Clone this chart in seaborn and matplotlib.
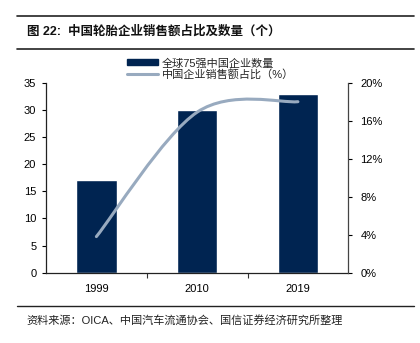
import matplotlib
matplotlib.use('Agg')
import matplotlib.pyplot as plt
import seaborn as sns
import pandas as pd
import numpy as np
from matplotlib.path import Path
from matplotlib.patches import PathPatch, Patch
from matplotlib.lines import Line2D
from matplotlib.ticker import FuncFormatter, FixedLocator

# ---- data ----
years = ['1999', '2010', '2019']
counts = [17, 30, 33]            # 全球75强中国企业数量
shares = [3.8, 16.9, 18.0]       # 中国企业销售额占比 (%)
left_ticks = [0, 5, 10, 15, 20, 25, 30, 35]
right_ticks = [0, 4, 8, 12, 16, 20]
title = '图 22:  中国轮胎企业销售额占比及数量（个）'
source = '资料来源：OICA、中国汽车流通协会、国信证券经济研究所整理'
label_bar = '全球75强中国企业数量'
label_line = '中国企业销售额占比（%）'

BAR = '#002451'
LINE = '#98AABF'

sns.set_theme(style='white')
plt.rcParams['font.family'] = ['Liberation Sans', 'Noto Sans CJK SC', 'DejaVu Sans']

W, H = 420, 343
fig = plt.figure(figsize=(W / 100, H / 100), dpi=100)
ax = fig.add_axes([46 / W, 1 - 272.7 / H, (348.3 - 46) / W, 190 / H])

df = pd.DataFrame({'year': years, 'count': counts})
sns.barplot(data=df, x='year', y='count', color=BAR, width=0.4, saturation=1,
            ax=ax, zorder=2)
ax.set_xlim(-0.5, 2.5)
ax.set_ylim(0, 35)
ax.set_yticks(left_ticks)
ax.set_xlabel('')
ax.set_ylabel('')
ax.xaxis.set_minor_locator(FixedLocator([0.5, 1.5]))
ax.tick_params(axis='x', which='major', length=0, labelsize=8, pad=8, colors='black')
ax.tick_params(axis='x', which='minor', bottom=True, length=3.5, width=0.8, direction='out', color='#333333')
ax.tick_params(axis='y', left=True, length=3, width=0.8, direction='out', labelsize=8, pad=4, colors='black')
for s in ['top', 'right']:
    ax.spines[s].set_visible(False)
for s in ['left', 'bottom']:
    ax.spines[s].set_color('#222222')
    ax.spines[s].set_linewidth(0.9)

ax2 = ax.twinx()
ax2.set_ylim(0, 20)
ax2.set_yticks(right_ticks)
ax2.yaxis.set_major_formatter(FuncFormatter(lambda v, p: f'{v:.0f}%'))
ax2.tick_params(axis='y', right=True, length=2.7, width=0.8, direction='out', labelsize=8, pad=6, colors='black')
for s in ['top', 'left', 'bottom']:
    ax2.spines[s].set_visible(False)
ax2.spines['right'].set_color('#444444')
ax2.spines['right'].set_linewidth(0.9)
ax2.grid(False)

# smoothed line (Catmull-Rom -> cubic Bezier through the data points)
xs = np.arange(len(shares), dtype=float)
ys = np.array(shares, dtype=float)
P = np.column_stack([xs, ys])
verts = [tuple(P[0])]
codes = [Path.MOVETO]
n = len(P)
for i in range(n - 1):
    p0 = P[i - 1] if i > 0 else P[i]
    p1 = P[i]
    p2 = P[i + 1]
    p3 = P[i + 2] if i + 2 < n else P[i + 1]
    c1 = p1 + (p2 - p0) / 6
    c2 = p2 - (p3 - p1) / 6
    verts += [tuple(c1), tuple(c2), tuple(p2)]
    codes += [Path.CURVE4] * 3
ax2.add_patch(PathPatch(Path(verts, codes), facecolor='none', edgecolor=LINE,
                        linewidth=2.2, capstyle='round', zorder=3))

# legend
handles = [Patch(facecolor=BAR, edgecolor=BAR),
           Line2D([0], [0], color=LINE, linewidth=2.2)]
fig.legend(handles, [label_bar, label_line], loc='upper left',
           bbox_to_anchor=(127 / W, 1 - 58 / H), frameon=False, fontsize=8,
           handlelength=2.8, handleheight=0.45, handletextpad=0.35,
           labelspacing=0.05, borderpad=0, borderaxespad=0)

# title, rules, source
fig.add_artist(Line2D([17 / W, 414 / W], [1 - 16 / H, 1 - 16 / H], color='#222222', linewidth=1.2))
fig.add_artist(Line2D([17 / W, 414 / W], [1 - 48.5 / H, 1 - 48.5 / H], color='#222222', linewidth=1.2))
fig.add_artist(Line2D([17 / W, 414 / W], [1 - 305.7 / H, 1 - 305.7 / H], color='#222222', linewidth=1.0))
fig.text(27 / W, 1 - 32 / H, title, fontsize=9, fontweight='bold', va='center', ha='left', color='#111111')
fig.text(26 / W, 1 - 320.7 / H, source, fontsize=8, va='center', ha='left', color='#222222')

fig.savefig('out.png', dpi=100)
